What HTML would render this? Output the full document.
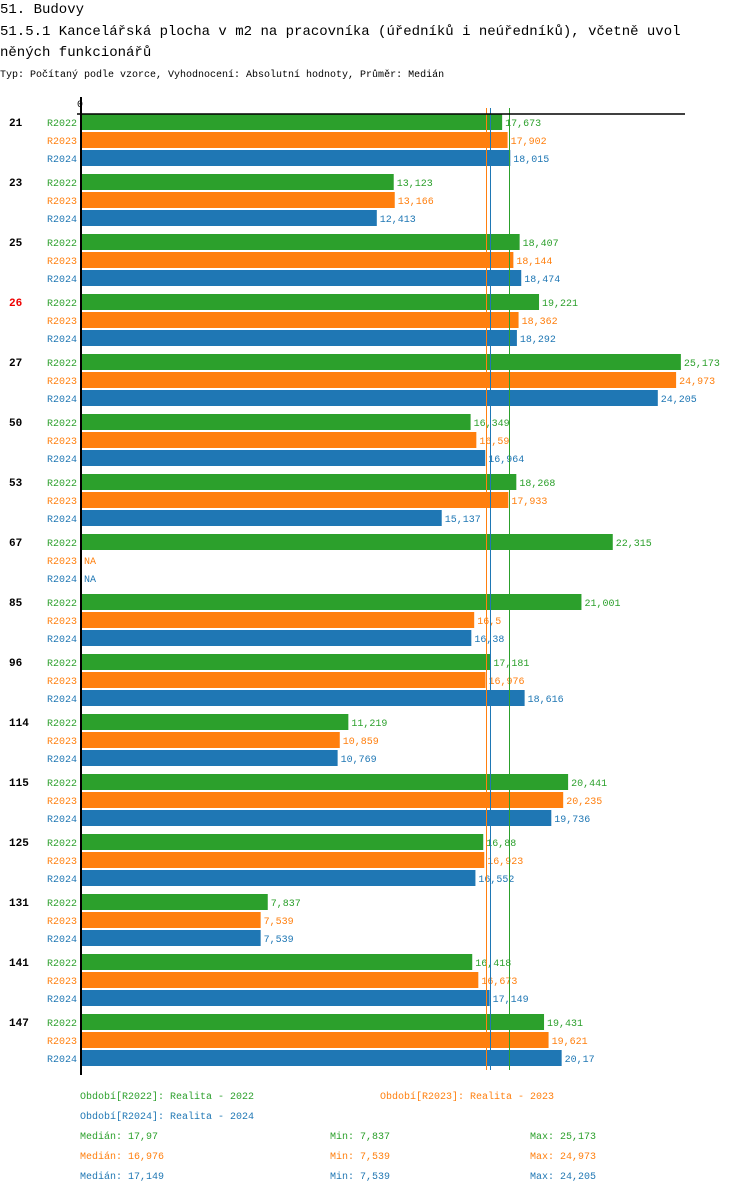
<!DOCTYPE html>
<html><head><meta charset="utf-8"><style>
body{margin:0;background:#fff;width:750px;height:1194px;overflow:hidden}
svg{font-family:"Liberation Mono","DejaVu Sans Mono",monospace}
</style></head><body>
<svg id="c" width="750" height="1194" xmlns="http://www.w3.org/2000/svg">
<text x="0" y="13" font-size="14">51. Budovy</text>
<text x="0" y="35" font-size="14">51.5.1 Kancelářská plocha v m2 na pracovníka (úředníků i neúředníků), včetně uvol</text>
<text x="0" y="56" font-size="14">něných funkcionářů</text>
<text x="0" y="77" font-size="10">Typ: Počítaný podle vzorce, Vyhodnocení: Absolutní hodnoty, Průměr: Medián</text>
<text x="77" y="107" font-size="10">0</text>
<g id="bars"></g>
<line x1="77" y1="114" x2="685" y2="114" stroke="#000" stroke-width="1.5"/>
<line x1="81" y1="97" x2="81" y2="1075" stroke="#000" stroke-width="2"/>
<g id="legend" font-size="10"></g>
</svg>
<script>
const groups=["21","23","25","26","27","50","53","67","85","96","114","115","125","131","141","147"];
const series=["R2022","R2023","R2024"];
const colors=["#2ca02c","#ff7f0e","#1f77b4"];
const v2022=[17.673,13.123,18.407,19.221,25.173,16.349,18.268,22.315,21.001,17.181,11.219,20.441,16.88,7.837,16.418,19.431];
const v2023=[17.902,13.166,18.144,18.362,24.973,16.59,17.933,null,16.5,16.976,10.859,20.235,16.923,7.539,16.673,19.621];
const v2024=[18.015,12.413,18.474,18.292,24.205,16.964,15.137,null,16.38,18.616,10.769,19.736,16.552,7.539,17.149,20.17];
const medians=[17.97,16.976,17.149];
const mins=[7.837,7.539,7.539];
const maxs=[25.173,24.973,24.205];
const vals=[v2022,v2023,v2024];
const NS="http://www.w3.org/2000/svg";
const x=v=>81+v*23.83;
const g=document.getElementById('bars');
function mk(tag,attrs,parent,txt){const e=document.createElementNS(NS,tag);for(const k in attrs)e.setAttribute(k,attrs[k]);if(txt!=null)e.textContent=txt;parent.appendChild(e);return e;}
const fmt=v=>String(v).replace('.',',');
groups.forEach((gn,i)=>{
  const y0=114+i*60;
  const t=mk('text',{x:9,y:y0+12,'font-size':11,'font-weight':'bold',fill:gn==="26"?"#e00":"#000"},g,gn);
  
  
  series.forEach((s,j)=>{
    const yy=y0+j*18;
    const l=mk('text',{x:47,y:yy+12,'font-size':10,fill:colors[j]},g,s);
    
    
    const v=vals[j][i];
    if(v==null){
      const n=mk('text',{x:84,y:yy+12,'font-size':10,fill:colors[j]},g,'NA');
      
      
      return;
    }
    const r=mk('rect',{x:82,y:yy,width:x(v)-82,height:16,fill:colors[j]},g);
    
    
    const vt=mk('text',{x:x(v)+3,y:yy+12,'font-size':10,fill:colors[j]},g,fmt(v));
    
    
  });
});
medians.forEach((m,j)=>{
  const xx=Math.round(x(m))+0.5;
  const ln=mk('line',{x1:xx,y1:108,x2:xx,y2:1070,stroke:colors[j],'stroke-width':1},g);
  
  
});
const lg=document.getElementById('legend');
const legTexts=[["Období[R2022]: Realita - 2022",80,1099,0],["Období[R2023]: Realita - 2023",380,1099,1],["Období[R2024]: Realita - 2024",80,1119,2]];
legTexts.forEach(a=>{
  const t=mk('text',{x:a[1],y:a[2],fill:colors[a[3]]},lg,a[0]);
  
  
});
[0,1,2].forEach(j=>{
  const y=1139+j*20;
  const a=mk('text',{x:80,y:y,fill:colors[j]},lg,'Medián: '+fmt(medians[j]));
  
  
  const b=mk('text',{x:330,y:y,fill:colors[j]},lg,'Min: '+fmt(mins[j]));
  
  
  const c=mk('text',{x:530,y:y,fill:colors[j]},lg,'Max: '+fmt(maxs[j]));
  
  
});
</script>
</body></html>
